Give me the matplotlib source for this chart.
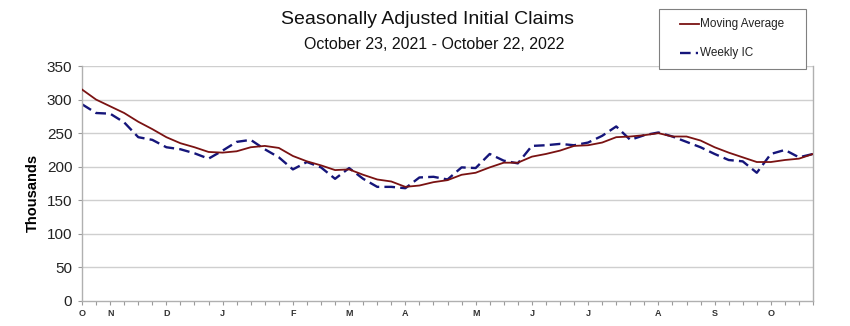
import numpy as np
import matplotlib.pyplot as plt
from matplotlib.lines import Line2D
from matplotlib.patches import Rectangle

plt.rcParams['font.family'] = ['Liberation Sans', 'DejaVu Sans']

# weeks ending Oct 23, 2021 .. Oct 22, 2022 (thousands)
moving_avg = [315, 300, 290, 280, 267, 256, 244, 235, 229, 222,
              221, 223, 229, 231, 228, 216, 208, 202, 195, 196,
              188, 181, 178, 170, 172, 177, 180, 188, 191, 199,
              206, 206, 215, 219, 224, 231, 232, 236, 244, 245,
              247, 250, 245, 245, 239, 229, 221, 214, 207, 207,
              210, 212, 219]
weekly_ic = [293, 280, 279, 266, 244, 240, 229, 226, 220, 212,
             224, 237, 240, 226, 214, 196, 207, 199, 182, 198,
             182, 170, 170, 168, 184, 185, 181, 199, 198, 219,
             209, 205, 231, 232, 234, 232, 236, 246, 260, 240,
             247, 251, 245, 237, 229, 219, 210, 208, 191, 219,
             225, 214, 219]

# first week of each month -> label
month_weeks = [0, 2, 6, 10, 15, 19, 23, 28, 32, 36, 41, 45, 49]
month_labels = ['O', 'N', 'D', 'J', 'F', 'M', 'A', 'M', 'J', 'J', 'A', 'S', 'O']

weeks = np.arange(len(moving_avg))
ma_color = '#7a1212'
ic_color = '#15157a'
ic_dash = (0, (4.5, 2.2))

fig = plt.figure(figsize=(8.5, 3.26), dpi=100)
ax = fig.add_axes([0.0965, 0.0767, 0.86, 0.7208])

grid_c = '#cfcfcf'
for v in range(50, 351, 50):
    ax.axhline(v, color=grid_c, lw=1.0, zorder=0)

ax.plot(weeks, moving_avg, color=ma_color, lw=1.3, zorder=3)
ax.plot(weeks, weekly_ic, color=ic_color, lw=1.7, linestyle=ic_dash, zorder=2)

ax.set_xlim(0, len(weeks) - 1)
ax.set_ylim(0, 350)
ax.set_yticks(range(0, 351, 50))
ax.tick_params(axis='y', labelsize=11, length=3, color='#9a9a9a', pad=4,
               labelcolor='#222222')

tick_labels = [''] * len(weeks)
for w, lab in zip(month_weeks, month_labels):
    tick_labels[w] = lab
ax.set_xticks(weeks)
ax.set_xticklabels(tick_labels, fontsize=6.5, fontweight='bold', color='#333333')
ax.tick_params(axis='x', length=3, color='#9a9a9a', pad=3)

for side in ['left', 'bottom', 'right']:
    ax.spines[side].set_color('#b0b0b0')
    ax.spines[side].set_linewidth(1.0)
ax.spines['top'].set_visible(False)

ax.set_ylabel('Thousands', fontsize=10.5, fontweight='bold')
ax.yaxis.set_label_coords(-0.057, 0.46)

fig.text(0.5035, 0.94, 'Seasonally Adjusted Initial Claims', ha='center',
         va='center', fontsize=14, color='#111111')
fig.text(0.511, 0.864, 'October 23, 2021 - October 22, 2022', ha='center',
         va='center', fontsize=11.5, color='#111111')

# legend box drawn in figure coordinates
W, H = 850.0, 326.0
fig.patches.append(Rectangle((659 / W, 1 - 69 / H), 147 / W, 60 / H,
                             transform=fig.transFigure, facecolor='white',
                             edgecolor='#808080', lw=0.8, zorder=10))
fig.lines.append(Line2D([680 / W, 699 / W], [1 - 24 / H] * 2, transform=fig.transFigure,
                        color=ma_color, lw=1.3, zorder=11))
fig.lines.append(Line2D([680 / W, 698 / W], [1 - 53 / H] * 2, transform=fig.transFigure,
                        color=ic_color, lw=1.7, linestyle=ic_dash, zorder=11))
fig.text(700 / W, 1 - 24 / H, 'Moving Average', fontsize=8.5, va='center',
         ha='left', color='#222222', zorder=12)
fig.text(700 / W, 1 - 53 / H, 'Weekly IC', fontsize=8.5, va='center',
         ha='left', color='#222222', zorder=12)

fig.savefig('out.png', dpi=100)
